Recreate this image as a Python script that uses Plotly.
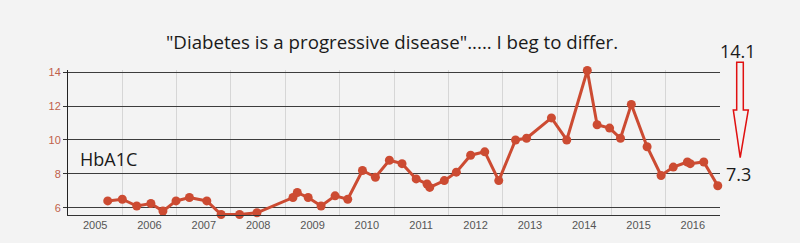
import plotly.graph_objects as go

# ---- data ----
dates = [
    "2005-09-25", "2006-01-01", "2006-04-08", "2006-07-12", "2006-10-01",
    "2006-12-28", "2007-03-28", "2007-07-23", "2007-10-27", "2008-02-28",
    "2008-06-24", "2009-02-21", "2009-03-22", "2009-06-03", "2009-08-29",
    "2009-12-01", "2010-02-24", "2010-06-03", "2010-08-29", "2010-12-01",
    "2011-02-24", "2011-05-30", "2011-08-11", "2011-08-29", "2011-12-05",
    "2012-02-24", "2012-05-30", "2012-09-02", "2012-12-05", "2013-03-28",
    "2013-06-10", "2013-11-24", "2014-03-07", "2014-07-23", "2014-09-27",
    "2014-12-20", "2015-03-03", "2015-05-15", "2015-08-29", "2015-12-01",
    "2016-02-21", "2016-05-26", "2016-06-14", "2016-09-13", "2016-12-16",
]
hba1c = [
    6.4, 6.5, 6.1, 6.25, 5.8,
    6.4, 6.6, 6.4, 5.6, 5.6,
    5.7, 6.6, 6.9, 6.6, 6.1,
    6.7, 6.5, 8.2, 7.8, 8.8,
    8.6, 7.7, 7.4, 7.2, 7.6,
    8.1, 9.1, 9.3, 7.6, 10.0,
    10.1, 11.3, 10.0, 14.1, 10.9,
    10.7, 10.1, 12.1, 9.6, 7.9,
    8.4, 8.7, 8.6, 8.7, 7.3,
]
y_ticks = [6, 8, 10, 12, 14]
title_text = '"Diabetes is a progressive disease"..... I beg to differ.'
series_label = "HbA1C"
start_label = "14.1"
end_label = "7.3"

# ---- layout geometry (pixels) ----
W, H = 800, 243
L, R, T, B = 68, 80, 70, 24
PW, PH = W - L - R, H - T - B

def px(x):
    return (x - L) / PW

def py(y):
    return (H - B - y) / PH

BG = "#f3f3f3"
LINE = "#cc4b32"

fig = go.Figure()
fig.add_trace(go.Scatter(
    x=dates, y=hba1c, mode="lines+markers",
    line=dict(color=LINE, width=3),
    marker=dict(color=LINE, size=9),
    cliponaxis=False,
    showlegend=False, hoverinfo="x+y",
))

arrow = [(736.7, 62), (743.3, 62), (743.3, 111), (748.3, 111),
         (740.2, 160), (733.3, 111), (736.7, 111)]
path = "M " + " L ".join(f"{px(a):.5f},{py(b):.5f}" for a, b in arrow) + " Z"

fig.update_layout(
    width=W, height=H,
    margin=dict(l=L, r=R, t=T, b=B),
    paper_bgcolor=BG, plot_bgcolor=BG,
    title=dict(text=title_text, x=0.49, xanchor="center",
               y=1 - 42 / H, yanchor="middle",
               font=dict(family="Open Sans", size=18.7, color="#1a1a1a")),
    xaxis=dict(
        type="date", range=["2005-01-01", "2016-12-31"],
        tick0="2005-01-01", dtick="M12", tickformat="%Y",
        ticklabelmode="period",
        showgrid=True, gridcolor="#d6d6d6", gridwidth=1,
        showline=True, linecolor="#333333", linewidth=1,
        ticks="", zeroline=False,
        tickfont=dict(family="Liberation Sans", size=11, color="#555555"),
    ),
    yaxis=dict(
        range=[5.57, 14.13], tickvals=y_ticks,
        showgrid=True, gridcolor="#3c3c3c", gridwidth=1,
        showline=True, linecolor="#222222", linewidth=1,
        ticks="outside", ticklen=4, tickcolor="#333333",
        zeroline=False,
        tickfont=dict(family="Liberation Sans", size=11, color="#c0604a"),
    ),
    shapes=[dict(type="path", xref="paper", yref="paper", path=path,
                 line=dict(color="#e01010", width=1.5), fillcolor=BG)],
    annotations=[
        dict(text=series_label, xref="paper", yref="paper",
             x=px(78), y=py(161), xanchor="left", yanchor="middle",
             showarrow=False,
             font=dict(family="Open Sans", size=18, color="#1a1a1a")),
        dict(text=start_label, xref="paper", yref="paper",
             x=px(738), y=py(50), xanchor="center", yanchor="middle",
             showarrow=False,
             font=dict(family="Open Sans", size=18, color="#1a1a1a")),
        dict(text=end_label, xref="paper", yref="paper",
             x=px(738), y=py(177), xanchor="center", yanchor="middle",
             showarrow=False,
             font=dict(family="Open Sans", size=18, color="#1a1a1a")),
    ],
)

fig.write_html("out.html")
